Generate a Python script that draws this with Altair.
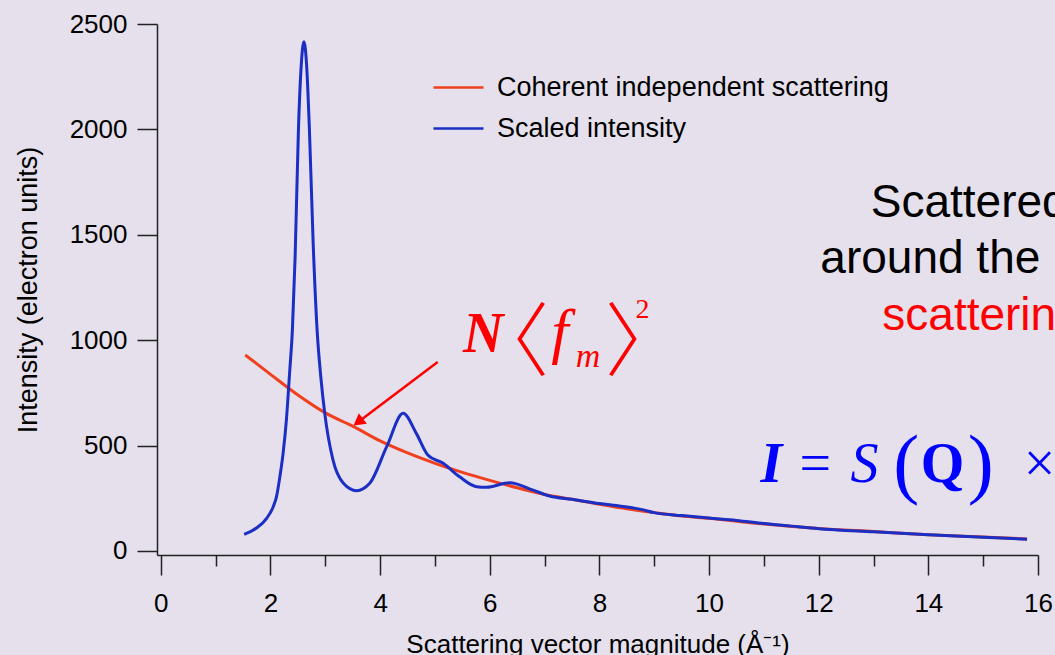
import altair as alt
import pandas as pd

# ---------------- data ----------------
series_names = ["Coherent independent scattering", "Scaled intensity"]
series_colors = ["#f0401e", "#1b2fc4"]

q_coherent = [1.54, 2.0, 2.5, 3.0, 3.5, 4.0, 4.5, 5.0, 5.5, 6.0, 6.5, 7.0, 7.5,
              8.0, 8.5, 9.0, 9.5, 10.0, 11.0, 12.0, 13.0, 14.0, 15.0, 15.8]
i_coherent = [930, 838, 740, 655, 592, 522, 465, 416, 373, 335, 300, 268, 245,
              222, 200, 182, 166, 155, 128, 107, 92, 77, 66, 57]

q_scaled = [1.52, 1.75, 1.93, 2.05, 2.11, 2.17, 2.23, 2.29, 2.35, 2.40, 2.45, 2.51,
            2.56, 2.61, 2.66, 2.71, 2.78, 2.85, 2.92, 2.99, 3.14, 3.33, 3.57, 3.81,
            4.12, 4.42, 4.66, 4.87, 5.15, 5.45, 5.76, 5.94, 6.36, 6.79, 7.09, 7.5,
            8.0, 8.4, 8.8, 9.0, 9.5, 10.0, 10.5, 11.0, 11.5, 12.0, 13.0, 14.0, 15.0, 15.8]
i_scaled = [79, 110, 155, 210, 258, 350, 463, 621, 850, 1050, 1400, 2000,
            2300, 2416, 2300, 2000, 1450, 1050, 820, 653, 432, 321, 286, 321,
            495, 653, 558, 455, 416, 352, 305, 302, 324, 289, 261, 245,
            225, 212, 195, 182, 168, 156, 145, 130, 118, 106, 91, 77, 65, 56]

x_tick_values = list(range(0, 17))
y_tick_values = [0, 500, 1000, 1500, 2000, 2500]

# annotation texts (anchored in data coordinates)
ann_text = ["Scattered", "around the", "scattering",
            "N", "\u3008", "f", "m", "\u3009", "2",
            "I", "=", "S", "(", "Q", ")", "\u00d7"]
ann_x = [12.95, 12.03, 13.16,
         5.51, 5.62, 7.12, 7.57, 8.10, 8.66,
         10.94, 11.65, 12.58, 13.36, 13.86, 14.72, 15.74]
ann_y = [1584, 1319, 1048,
         944, 862, 944, 873, 862, 1105,
         327, 327, 327, 294, 327, 294, 327]
ann_style = ["black", "black", "red",
             "rbi", "rbr", "ri", "rsub", "rbr", "rsup",
             "bbi", "br", "bi", "bpar", "bb", "bpar", "br"]

arrow_start = (5.05, 897)
arrow_tip = (3.60, 612)

# ---------------- build ----------------
df = pd.concat([
    pd.DataFrame({"q": q_coherent, "I": i_coherent, "series": series_names[0]}),
    pd.DataFrame({"q": q_scaled, "I": i_scaled, "series": series_names[1]}),
])

x_scale = alt.Scale(domain=[-0.07, 16], nice=False, zero=False)
y_scale = alt.Scale(domain=[-19, 2500], nice=False, zero=False)

FONT = "Liberation Sans"

x_axis = alt.Axis(
    values=x_tick_values, format="d",
    labelExpr="datum.value % 2 === 0 ? datum.label : ''",
    tickSize={"condition": {"test": "datum.value % 2 === 1", "value": 11}, "value": 20},
    labelPadding=15, labelFontSize=26, labelFont=FONT, labelColor="black",
    title="Scattering vector magnitude (\u00c5\u207b\u00b9)",
    titleFont=FONT, titleFontSize=26, titleFontWeight="normal", titleColor="black",
    titlePadding=15, grid=False, domainColor="#222222", domainWidth=1.5,
    tickColor="#222222", tickWidth=1.5, labelFlush=False, labelOverlap=False,
)
y_axis = alt.Axis(
    values=y_tick_values, format="d", tickSize=20, labelPadding=10, labelFontSize=26,
    labelFont=FONT, labelColor="black",
    title="Intensity (electron units)", titleFont=FONT, titleFontSize=27,
    titleFontWeight="normal", titleColor="black", titlePadding=27, grid=False,
    domainColor="#222222", domainWidth=1.5, tickColor="#222222", tickWidth=1.5,
    labelFlush=False, labelOverlap=False,
)

lines = alt.Chart(df).mark_line(strokeWidth=3, interpolate="monotone").encode(
    x=alt.X("q:Q", scale=x_scale, axis=x_axis),
    y=alt.Y("I:Q", scale=y_scale, axis=y_axis),
    color=alt.Color(
        "series:N",
        scale=alt.Scale(domain=series_names, range=series_colors),
        legend=alt.Legend(
            title=None, orient="none", legendX=275, legendY=37, padding=0,
            symbolType="stroke", symbolSize=2500, symbolStrokeWidth=2.5,
            labelFont=FONT, labelFontSize=27, labelColor="black", labelLimit=0,
            labelOffset=12, rowPadding=1,
        ),
    ),
)

ann = pd.DataFrame({"text": ann_text, "x": ann_x, "y": ann_y, "style": ann_style})

styles = {
    "black": dict(font=FONT, fontSize=46, color="black"),
    "red": dict(font=FONT, fontSize=46, color="#ff0000"),
    "rbi": dict(font="Liberation Serif", fontSize=56, fontStyle="italic", fontWeight="bold", color="#ff0000"),
    "ri": dict(font="Liberation Serif", fontSize=62, fontStyle="italic", color="#ff0000"),
    "rsub": dict(font="Liberation Serif", fontSize=34, fontStyle="italic", color="#ff0000"),
    "rbr": dict(font="Noto Sans CJK JP", fontSize=80, fontWeight=300, color="#ff0000"),
    "rsup": dict(font="Liberation Serif", fontSize=28, color="#ff0000"),
    "bbi": dict(font="Liberation Serif", fontSize=56, fontStyle="italic", fontWeight="bold", color="#0000ff"),
    "bi": dict(font="Liberation Serif", fontSize=56, fontStyle="italic", color="#0000ff"),
    "bb": dict(font="Liberation Serif", fontSize=56, fontWeight="bold", color="#0000ff"),
    "br": dict(font="Liberation Serif", fontSize=56, color="#0000ff"),
    "bpar": dict(font="Liberation Serif", fontSize=78, color="#0000ff"),
}

text_layers = []
for key, st in styles.items():
    sub = ann[ann["style"] == key]
    if sub.empty:
        continue
    kw = dict(align="left", baseline="alphabetic")
    kw.update(st)
    text_layers.append(
        alt.Chart(sub).mark_text(**kw).encode(
            x=alt.X("x:Q", scale=x_scale),
            y=alt.Y("y:Q", scale=y_scale),
            text="text:N",
        )
    )

arrow_df = pd.DataFrame({"x": [arrow_start[0]], "y": [arrow_start[1]],
                         "x2": [arrow_tip[0]], "y2": [arrow_tip[1]]})
arrow_line = alt.Chart(arrow_df).mark_rule(color="#ff0000", strokeWidth=2.5).encode(
    x=alt.X("x:Q", scale=x_scale), y=alt.Y("y:Q", scale=y_scale),
    x2="x2:Q", y2="y2:Q",
)
head_df = pd.DataFrame({"x": [arrow_tip[0]], "y": [arrow_tip[1]]})
arrow_head = alt.Chart(head_df).mark_point(
    shape="triangle-up", filled=True, color="#ff0000", size=180, angle=233, opacity=1
).encode(x=alt.X("x:Q", scale=x_scale), y=alt.Y("y:Q", scale=y_scale))

chart = alt.layer(lines, arrow_line, arrow_head, *text_layers).properties(
    width=881, height=531,
    autosize=alt.AutoSizeParams(type="none"),
    padding={"left": 157, "top": 24, "right": 17, "bottom": 100},
    background="#e5e0ec",
).configure_view(stroke=None)

chart.save("out.html", embed_options={"renderer": "svg", "actions": False})
